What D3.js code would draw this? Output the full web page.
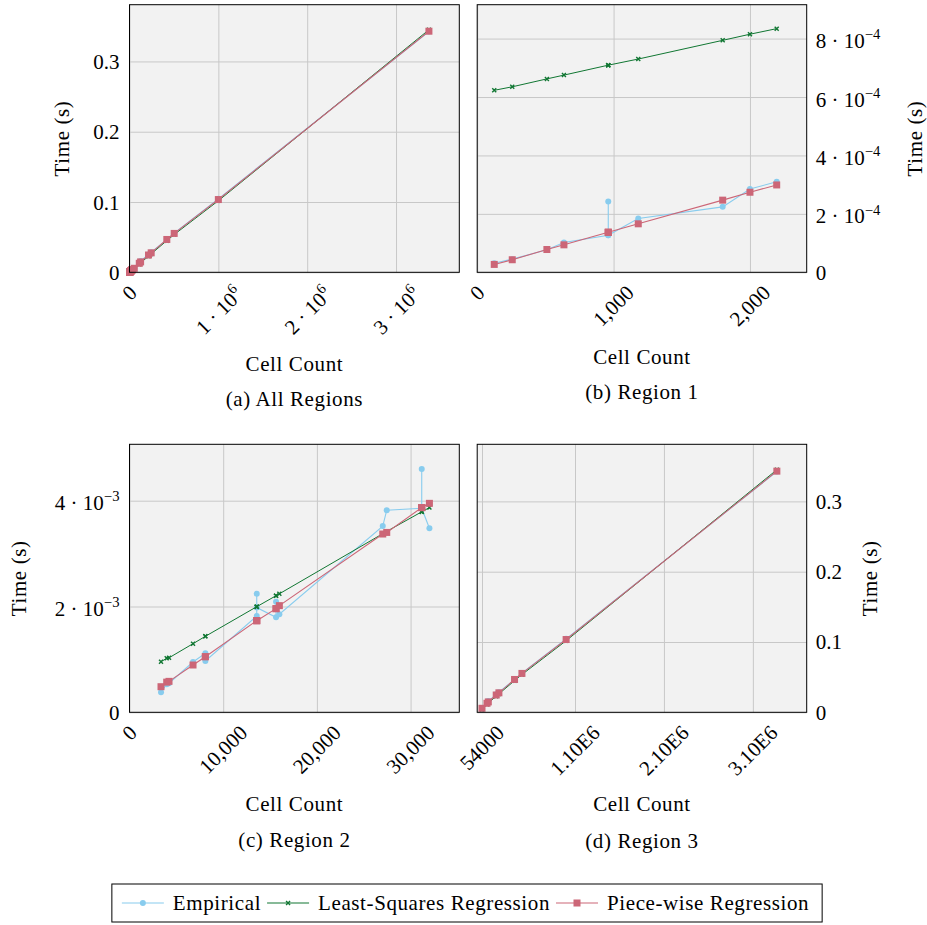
<!DOCTYPE html>
<html>
<head>
<meta charset="utf-8">
<script src="https://cdn.jsdelivr.net/npm/d3@7"></script>
</head>
<body style="margin:0;background:#fff">
<svg id="fig" width="927" height="925"></svg>
<script>
// region 1 (small meshes)
const r1Cells = [125, 257, 511, 636, 961, 961, 961, 1181, 1800, 2000, 2196];
const r1Empirical = [3.1e-5, 4.5e-5, 7.7e-5, 1.02e-4, 1.27e-4, 2.42e-4, 1.27e-4, 1.84e-4, 2.24e-4, 2.85e-4, 3.1e-4];
const r1LeastSq = [6.23e-4, 6.35e-4, 6.62e-4, 6.75e-4, 7.09e-4, 7.09e-4, 7.09e-4, 7.30e-4, 7.94e-4, 8.15e-4, 8.34e-4];
const r1Piecewise = [2.7e-5, 4.3e-5, 7.8e-5, 9.4e-5, 1.37e-4, 1.37e-4, 1.37e-4, 1.66e-4, 2.47e-4, 2.74e-4, 2.99e-4];

// region 2
const r2Cells = [3363, 3970, 4217, 6780, 8095, 8095, 13580, 13580, 13580, 15640, 15640, 15995, 27030, 27455, 31190, 31190, 31190, 32010];
const r2Empirical = [0.378e-3, 0.53e-3, 0.55e-3, 0.951e-3, 1.115e-3, 0.97e-3, 1.82e-3, 2.243e-3, 1.98e-3, 1.796e-3, 2.09e-3, 1.853e-3, 3.52e-3, 3.82e-3, 3.856e-3, 4.6e-3, 3.856e-3, 3.48e-3];
const r2LeastSq = [0.957e-3, 1.02e-3, 1.03e-3, 1.297e-3, 1.436e-3, 1.436e-3, 1.996e-3, 1.996e-3, 1.996e-3, 2.204e-3, 2.204e-3, 2.24e-3, 3.376e-3, 3.42e-3, 3.79e-3, 3.79e-3, 3.79e-3, 3.87e-3];
const r2Piecewise = [0.484e-3, 0.57e-3, 0.585e-3, 0.894e-3, 1.051e-3, 1.051e-3, 1.732e-3, 1.732e-3, 1.732e-3, 1.959e-3, 1.959e-3, 2.016e-3, 3.37e-3, 3.40e-3, 3.87e-3, 3.87e-3, 3.87e-3, 3.95e-3];

// region 3 (large meshes)
const r3Cells = [54000, 110000, 125000, 214000, 244000, 420000, 503000, 1000000, 3370000];
const r3Empirical = [0.0058, 0.0135, 0.0160, 0.0255, 0.0285, 0.0465, 0.0558, 0.1045, 0.3425];
const r3LeastSq = [0.0045, 0.0115, 0.0133, 0.0230, 0.0262, 0.0450, 0.0537, 0.1018, 0.345];
const r3Piecewise = [0.0057, 0.0128, 0.0148, 0.0246, 0.0277, 0.0467, 0.0553, 0.1035, 0.343];

// ticks
const aXTicks = [0, 1e6, 2e6, 3e6];
const aXLabels = ["0", "1 · 10^6", "2 · 10^6", "3 · 10^6"];
const aYTicks = [0, 0.1, 0.2, 0.3];
const aYLabels = ["0", "0.1", "0.2", "0.3"];
const bXTicks = [0, 1000, 2000];
const bXLabels = ["0", "1,000", "2,000"];
const bYTicks = [0, 2e-4, 4e-4, 6e-4, 8e-4];
const bYLabels = ["0", "2 · 10^−4", "4 · 10^−4", "6 · 10^−4", "8 · 10^−4"];
const cXTicks = [0, 10000, 20000, 30000];
const cXLabels = ["0", "10,000", "20,000", "30,000"];
const cYTicks = [0, 2e-3, 4e-3];
const cYLabels = ["0", "2 · 10^−3", "4 · 10^−3"];
const dXTicks = [54000, 1.1e6, 2.1e6, 3.1e6];
const dXLabels = ["54000", "1.10E6", "2.10E6", "3.10E6"];
const dYTicks = [0, 0.1, 0.2, 0.3];
const dYLabels = ["0", "0.1", "0.2", "0.3"];

const seriesNames = ["Empirical", "Least-Squares Regression", "Piece-wise Regression"];
const colors = ["#88CCEE", "#117733", "#CC6677"];

const svg = d3.select("#fig");
const FS = 21;
const LS = 0.6; // letter spacing for titles

function addLabel(t, str){
  const parts = str.split("^");
  t.append("tspan").text(parts[0]);
  if(parts.length > 1){
    t.append("tspan").attr("dy", -0.42*FS).attr("font-size", FS*0.7).text(parts[1]);
  }
}

function txt(g){
  return g.append("text").style("font-family", '"Liberation Serif"').attr("font-size", FS).attr("fill", "#000");
}

function drawMarker(g, kind, cx, cy, color){
  if(kind === 0){
    g.append("circle").attr("cx", cx).attr("cy", cy).attr("r", 3).attr("fill", color);
  } else if(kind === 1){
    const s = 2;
    g.append("path").attr("d", `M${cx-s},${cy-s}L${cx+s},${cy+s}M${cx-s},${cy+s}L${cx+s},${cy-s}`)
      .attr("stroke", color).attr("stroke-width", 1.4).attr("fill", "none");
  } else {
    g.append("rect").attr("x", cx-3.5).attr("y", cy-3.5).attr("width", 7).attr("height", 7).attr("fill", color);
  }
}

function panel(p){
  const g = svg.append("g");
  const x = d3.scaleLinear().domain(p.xDomain).range([p.left, p.right]);
  const y = d3.scaleLinear().domain(p.yDomain).range([p.bottom, p.top]);
  const h = p.bottom - p.top, w = p.right - p.left;

  g.append("rect").attr("x", p.left).attr("y", p.top).attr("width", w).attr("height", h).attr("fill", "#f2f2f2");

  // grid
  g.append("g").attr("transform", `translate(0,${p.bottom})`)
    .call(d3.axisBottom(x).tickValues(p.xTicks).tickSize(-h).tickFormat(""))
    .call(a => { a.select(".domain").remove(); a.selectAll("line").attr("stroke", "#c8c8c8").attr("stroke-width", 1); });
  g.append("g").attr("transform", `translate(${p.left},0)`)
    .call(d3.axisLeft(y).tickValues(p.yTicks).tickSize(-w).tickFormat(""))
    .call(a => { a.select(".domain").remove(); a.selectAll("line").attr("stroke", "#c8c8c8").attr("stroke-width", 1); });

  // series
  const vals = [p.emp, p.ls, p.pw];
  vals.forEach((v, k) => {
    const pts = p.cells.map((c, i) => [x(c), y(v[i])]);
    g.append("path").attr("d", d3.line()(pts)).attr("fill", "none")
      .attr("stroke", colors[k]).attr("stroke-width", k === 1 ? 1 : 1.1);
    pts.forEach(q => drawMarker(g, k, q[0], q[1], colors[k]));
  });

  g.append("rect").attr("x", p.left).attr("y", p.top).attr("width", w).attr("height", h)
    .attr("fill", "none").attr("stroke", "#000").attr("stroke-width", 1);

  // x tick labels, rotated 45°
  p.xTicks.forEach((v, i) => {
    const t = txt(g).attr("text-anchor", "middle");
    addLabel(t, p.xLabels[i]);
    const b = t.node().getBBox();
    const cy = b.y + b.height/2;
    const half = (b.width + b.height*0.7)*0.7071/2;
    t.attr("y", -cy).attr("transform", `translate(${x(v)},${p.bottom + 11 + half}) rotate(-45)`);
  });

  // y tick labels
  p.yTicks.forEach((v, i) => {
    const lab = p.yLabels[i];
    const t = txt(g)
      .attr("text-anchor", p.yRight ? "start" : "end")
      .attr("x", p.yRight ? p.right + 9 : p.left - 10)
      .attr("y", y(v) + (lab.includes("^") ? 9.5 : 7.5));
    addLabel(t, lab);
  });

  const mid = (p.left + p.right)/2;
  txt(g).attr("x", mid).attr("y", p.xTitleY).attr("text-anchor", "middle")
    .attr("letter-spacing", LS).text("Cell Count");
  txt(g).attr("text-anchor", "middle").attr("letter-spacing", LS)
    .attr("transform", `translate(${p.yTitleX},${(p.top + p.bottom)/2}) rotate(-90)`).text("Time (s)");
  txt(g).attr("x", mid).attr("y", p.captionY).attr("text-anchor", "middle")
    .attr("letter-spacing", LS).text(p.caption);
}

panel({
  left: 129.5, right: 459.3, top: 4.7, bottom: 272.3,
  xDomain: [0, 3.712e6], yDomain: [0, 0.3807],
  xTicks: aXTicks, xLabels: aXLabels, yTicks: aYTicks, yLabels: aYLabels,
  cells: r1Cells.concat(r2Cells, r3Cells),
  emp: r1Empirical.concat(r2Empirical, r3Empirical),
  ls: r1LeastSq.concat(r2LeastSq, r3LeastSq),
  pw: r1Piecewise.concat(r2Piecewise, r3Piecewise),
  yRight: false, xTitleY: 371, yTitleX: 69, captionY: 406, caption: "(a) All Regions"
});
panel({
  left: 477.2, right: 806.7, top: 4.7, bottom: 272.3,
  xDomain: [0, 2416], yDomain: [0, 9.16e-4],
  xTicks: bXTicks, xLabels: bXLabels, yTicks: bYTicks, yLabels: bYLabels,
  cells: r1Cells, emp: r1Empirical, ls: r1LeastSq, pw: r1Piecewise,
  yRight: true, xTitleY: 364, yTitleX: 922, captionY: 399, caption: "(b) Region 1"
});
panel({
  left: 129.5, right: 459.3, top: 444.3, bottom: 712.3,
  xDomain: [0, 35200], yDomain: [0, 5.066e-3],
  xTicks: cXTicks, xLabels: cXLabels, yTicks: cYTicks, yLabels: cYLabels,
  cells: r2Cells, emp: r2Empirical, ls: r2LeastSq, pw: r2Piecewise,
  yRight: false, xTitleY: 811, yTitleX: 26, captionY: 847, caption: "(c) Region 2"
});
panel({
  left: 477.2, right: 806.7, top: 444.3, bottom: 712.3,
  xDomain: [0, 3.7056e6], yDomain: [0, 0.3812],
  xTicks: dXTicks, xLabels: dXLabels, yTicks: dYTicks, yLabels: dYLabels,
  cells: r3Cells, emp: r3Empirical, ls: r3LeastSq, pw: r3Piecewise,
  yRight: true, xTitleY: 811, yTitleX: 877, captionY: 848, caption: "(d) Region 3"
});

// legend
const leg = svg.append("g");
const lineLen = 42, gapIn = 9, gapOut = 6, padL = 10, padR = 13;
let cx = 0;
const items = [];
seriesNames.forEach((name, k) => {
  const t = txt(leg).attr("letter-spacing", LS).attr("y", 910).text(name);
  const tw = t.node().getComputedTextLength();
  items.push({t, k, x0: cx});
  cx += lineLen + gapIn + tw + gapOut;
});
const total = padL + cx - gapOut + padR;
const lx = 467 - total/2;
leg.insert("rect", ":first-child").attr("x", lx).attr("y", 884).attr("width", total).attr("height", 38)
  .attr("fill", "#fff").attr("stroke", "#000").attr("stroke-width", 1);
items.forEach(it => {
  const x0 = lx + padL + it.x0;
  leg.append("line").attr("x1", x0).attr("x2", x0 + lineLen).attr("y1", 903).attr("y2", 903)
    .attr("stroke", colors[it.k]).attr("stroke-width", 1.1);
  drawMarker(leg, it.k, x0 + lineLen/2, 903, colors[it.k]);
  it.t.attr("x", x0 + lineLen + gapIn);
});
</script>
</body>
</html>
